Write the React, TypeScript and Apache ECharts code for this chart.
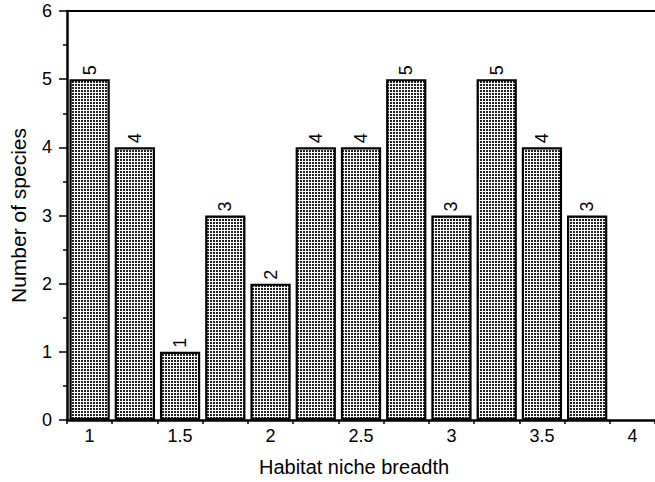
import React, { useEffect, useRef } from "react";
import * as echarts from "echarts";

const categories = ["1", "1.25", "1.5", "1.75", "2", "2.25", "2.5", "2.75", "3", "3.25", "3.5", "3.75", "4"];
const speciesCounts = [5, 4, 1, 3, 2, 4, 4, 5, 3, 5, 4, 3, null];
const yTicks = { min: 0, max: 6, interval: 1 };

function makePattern(): HTMLCanvasElement {
  const c = document.createElement("canvas");
  c.width = 3;
  c.height = 3;
  const ctx = c.getContext("2d")!;
  ctx.fillStyle = "#ffffff";
  ctx.fillRect(0, 0, 3, 3);
  ctx.fillStyle = "#222222";
  ctx.fillRect(0, 0, 2, 2);
  return c;
}

export default function App() {
  const ref = useRef<HTMLDivElement>(null);
  useEffect(() => {
    document.body.style.margin = "0";
    const chart = echarts.init(ref.current!, null, { renderer: "svg" });
    const font = "'Liberation Sans', Arial, sans-serif";
    chart.setOption({
      animation: false,
      backgroundColor: "#ffffff",
      grid: { left: 65, right: -5, top: 11, bottom: 62 },
      xAxis: [
        {
          type: "category",
          data: categories,
          boundaryGap: true,
          axisLine: { lineStyle: { color: "#000", width: 2.5 } },
          axisTick: { show: true, interval: 0, length: 4, lineStyle: { color: "#000", width: 1.5 } },
          axisLabel: { interval: 1, color: "#000", fontSize: 18, fontFamily: font, margin: 7 },
          splitLine: { show: false },
        },
        {
          type: "category",
          data: categories,
          position: "top",
          axisLine: { lineStyle: { color: "#000", width: 2 } },
          axisTick: { show: false },
          axisLabel: { show: false },
        },
      ],
      yAxis: {
        type: "value",
        min: yTicks.min,
        max: yTicks.max,
        interval: yTicks.interval,
        name: "Number of species",
        nameLocation: "middle",
        nameRotate: 90,
        nameGap: 38,
        nameTextStyle: { color: "#000", fontSize: 21, fontFamily: font },
        axisLine: { show: true, lineStyle: { color: "#000", width: 2.5 } },
        axisTick: { show: true, length: 8, lineStyle: { color: "#000", width: 1.5 } },
        minorTick: { show: true, splitNumber: 2, length: 4, lineStyle: { color: "#000", width: 1.5 } },
        axisLabel: { color: "#000", fontSize: 18, fontFamily: font, margin: 15 },
        splitLine: { show: false },
      },
      graphic: [
        {
          type: "text",
          x: 354,
          y: 467,
          style: {
            text: "Habitat niche breadth",
            fill: "#000",
            font: `20px ${font}`,
            textAlign: "center",
            textVerticalAlign: "middle",
          },
        },
      ],
      series: [
        {
          type: "bar",
          data: speciesCounts,
          barCategoryGap: "11%",
          itemStyle: {
            color: { image: makePattern(), repeat: "repeat" },
            borderColor: "#000",
            borderWidth: 2.2,
          },
          label: {
            show: true,
            position: "top",
            rotate: 90,
            align: "left",
            verticalAlign: "middle",
            distance: 4,
            color: "#000",
            fontSize: 18,
            fontFamily: font,
          },
        },
      ],
    });
    return () => chart.dispose();
  }, []);
  return <div ref={ref} style={{ width: 655, height: 482 }} />;
}
